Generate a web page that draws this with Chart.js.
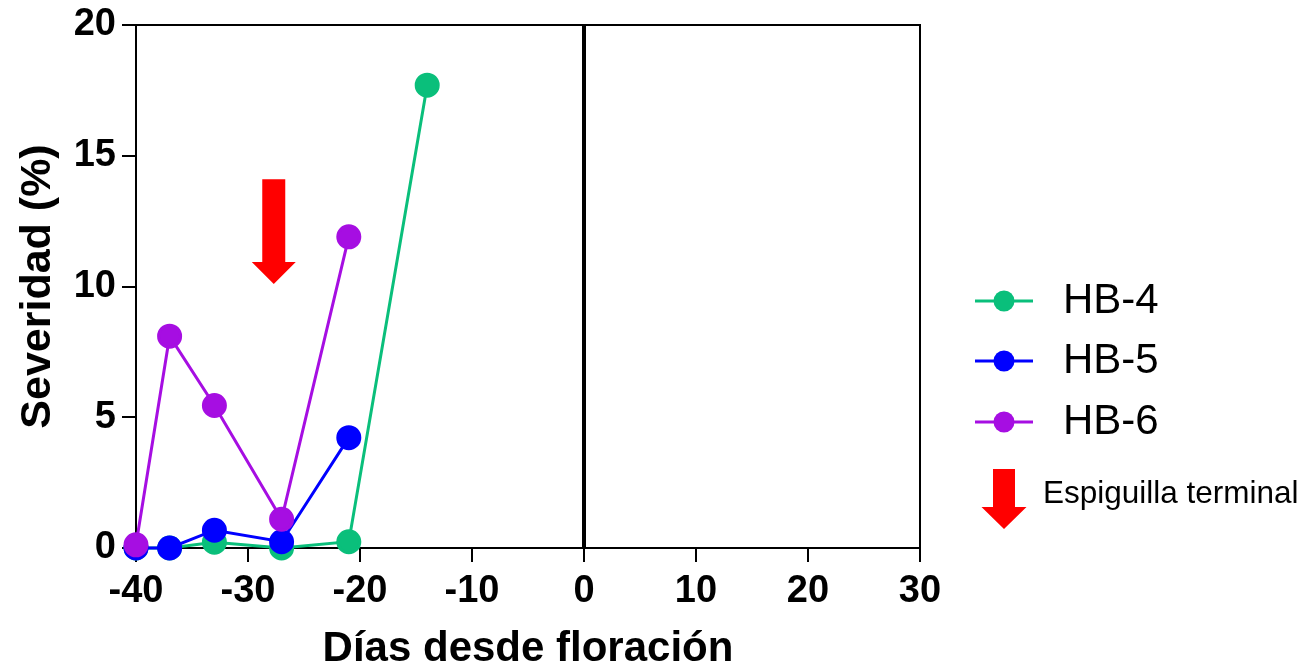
<!DOCTYPE html>
<html><head><meta charset="utf-8">
<script src="https://cdn.jsdelivr.net/npm/chart.js@4/dist/chart.umd.min.js"></script>
<style>html,body{margin:0;padding:0;background:#fff;overflow:hidden}</style>
</head><body>
<canvas id="c" width="1305" height="667" style="display:block;width:1305px;height:667px"></canvas>
<script>
// ---- data ----
const days = [-40, -37, -33, -27, -21, -14];
const seriesNames = ['HB-4', 'HB-5', 'HB-6'];
const hb4 = [0, 0, 0.22, 0, 0.24, 17.7];
const hb5 = [0, 0, 0.68, 0.24, 4.22];
const hb6 = [0.12, 8.1, 5.45, 1.1, 11.9];
const xTicks = [-40, -30, -20, -10, 0, 10, 20, 30];
const yTicks = [0, 5, 10, 15, 20];
const arrowDay = -27.7, arrowFrom = 14.1, arrowTo = 10.1;
const arrowLabel = 'Espiguilla terminal';
const xTitle = 'Días desde floración';
const yTitle = 'Severidad (%)';

const colors = ['#0ABF7B', '#0000FF', '#A60EE2'];
const FAMILY = "'Liberation Sans', Arial, Helvetica, sans-serif";
Chart.defaults.font.family = FAMILY;
Chart.defaults.color = '#000';

const seriesValues = [hb4, hb5, hb6];
const datasets = seriesValues.map((vals, i) => ({
  label: seriesNames[i],
  data: vals.map((v, j) => ({x: days[j], y: v})),
  borderColor: colors[i],
  backgroundColor: colors[i],
  pointBackgroundColor: colors[i],
  pointBorderColor: colors[i],
  pointRadius: 11,
  pointHoverRadius: 11,
  borderWidth: 3,
  showLine: true,
  clip: false,
  order: 2 - i
}));

function drawArrow(ctx, cx, top, tip, shaftW, headW, headL) {
  ctx.save();
  ctx.fillStyle = '#FF0000';
  ctx.beginPath();
  ctx.moveTo(cx - shaftW / 2, top);
  ctx.lineTo(cx + shaftW / 2, top);
  ctx.lineTo(cx + shaftW / 2, tip - headL);
  ctx.lineTo(cx + headW / 2, tip - headL);
  ctx.lineTo(cx, tip);
  ctx.lineTo(cx - headW / 2, tip - headL);
  ctx.lineTo(cx - shaftW / 2, tip - headL);
  ctx.closePath();
  ctx.fill();
  ctx.restore();
}

const decor = {
  id: 'decor',
  beforeDatasetsDraw(chart) {
    const {ctx, chartArea: a, scales: {x, y}} = chart;
    ctx.save();
    ctx.strokeStyle = '#000';
    ctx.lineWidth = 2;
    ctx.beginPath();
    ctx.moveTo(a.left - 1, a.top);
    ctx.lineTo(a.right, a.top);
    ctx.lineTo(a.right, a.bottom);
    ctx.stroke();
    const zx = x.getPixelForValue(0);
    ctx.lineWidth = 4;
    ctx.beginPath();
    ctx.moveTo(zx, a.top);
    ctx.lineTo(zx, a.bottom);
    ctx.stroke();
    ctx.restore();
    drawArrow(ctx, x.getPixelForValue(arrowDay), y.getPixelForValue(arrowFrom), y.getPixelForValue(arrowTo), 23, 44, 22);
  },
  afterDraw(chart) {
    const {ctx} = chart;
    const rows = [301, 361, 422];
    ctx.save();
    chart.data.datasets.forEach((ds, i) => {
      const yy = rows[i];
      ctx.strokeStyle = ds.borderColor;
      ctx.lineWidth = 3;
      ctx.beginPath();
      ctx.moveTo(975, yy);
      ctx.lineTo(1033, yy);
      ctx.stroke();
      ctx.fillStyle = ds.backgroundColor;
      ctx.beginPath();
      ctx.arc(1004, yy, 10.5, 0, Math.PI * 2);
      ctx.fill();
      ctx.fillStyle = '#000';
      ctx.font = '42px ' + FAMILY;
      ctx.textBaseline = 'middle';
      ctx.textAlign = 'left';
      ctx.fillText(ds.label, 1063, yy);
    });
    drawArrow(ctx, 1004, 469, 529, 22, 45, 22);
    ctx.fillStyle = '#000';
    ctx.font = '31.5px ' + FAMILY;
    ctx.textBaseline = 'middle';
    ctx.fillText(arrowLabel, 1043, 494);
    ctx.restore();
  }
};

new Chart(document.getElementById('c'), {
  type: 'scatter',
  data: {datasets},
  options: {
    responsive: false,
    devicePixelRatio: 1,
    animation: false,
    events: [],
    layout: {padding: {left: 0, right: 385, top: 25, bottom: 0}},
    plugins: {legend: {display: false}, tooltip: {enabled: false}},
    scales: {
      x: {
        type: 'linear', min: -40, max: 30,
        afterFit: s => { s.height = 119; },
        afterBuildTicks: s => { s.ticks = xTicks.map(v => ({value: v})); },
        grid: {display: true, drawOnChartArea: false, drawTicks: true, tickLength: 14, color: '#000', lineWidth: 2},
        border: {display: true, color: '#000', width: 2},
        ticks: {autoSkip: false, maxRotation: 0, padding: 11, color: '#000', font: {size: 38, weight: 'bold', lineHeight: 1}},
        title: {display: true, text: xTitle, color: '#000', font: {size: 42, weight: 'bold', lineHeight: 1}, padding: {top: 0, bottom: -3}}
      },
      y: {
        type: 'linear', min: 0, max: 20,
        afterFit: s => { s.width = 136; },
        afterBuildTicks: s => { s.ticks = yTicks.map(v => ({value: v})); },
        grid: {display: true, drawOnChartArea: false, drawTicks: true, tickLength: 14, color: '#000', lineWidth: 2},
        border: {display: true, color: '#000', width: 2},
        ticks: {autoSkip: false, padding: 6, color: '#000', font: {size: 38, weight: 'bold', lineHeight: 1}},
        title: {display: true, text: yTitle, color: '#000', font: {size: 43, weight: 'bold', lineHeight: 1}, padding: {top: 17, bottom: 0}}
      }
    }
  },
  plugins: [decor]
});
</script>
</body></html>
